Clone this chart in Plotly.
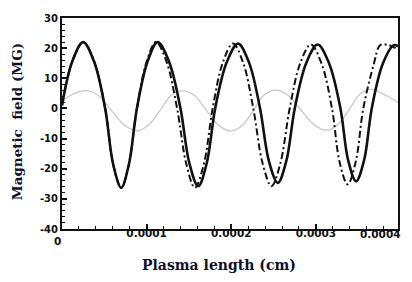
import plotly.graph_objects as go

# ---- data (x in cm) ----
solid_x = [0, 1.2e-5, 2.5e-5, 3.8e-5, 5.1e-5, 6.05e-5, 7.0e-5, 7.9e-5, 8.85e-5,
           10.1e-5, 11.3e-5, 12.65e-5, 14.0e-5, 15.05e-5, 16.1e-5, 17.1e-5, 18.1e-5,
           19.45e-5, 20.8e-5, 22.1e-5, 23.4e-5, 24.45e-5, 25.5e-5, 26.5e-5, 27.5e-5,
           28.85e-5, 30.2e-5, 31.55e-5, 32.9e-5, 33.8e-5, 34.75e-5, 35.7e-5, 36.6e-5,
           37.9e-5, 39.2e-5, 39.7e-5]
solid_y = [1, 15.5, 22, 15.5, 0, -18.6, -26.3, -18.6, 0,
           15.5, 22, 15.5, 0, -18.2, -25.8, -18.2, 0,
           15.2, 21.5, 15.2, 0, -17.5, -24.7, -17.5, 0,
           15, 21.2, 15, 0, -17.1, -24.2, -17.1, 0,
           14.8, 21, 20.6]

dashdot_x = [0, 1.2e-5, 2.5e-5, 3.8e-5, 5.1e-5, 6.05e-5, 7.0e-5, 7.9e-5, 8.85e-5,
             10.0e-5, 11.1e-5, 12.35e-5, 13.6e-5, 14.7e-5, 15.7e-5, 16.75e-5, 17.8e-5,
             19.0e-5, 20.2e-5, 21.4e-5, 22.6e-5, 23.7e-5, 24.75e-5, 25.8e-5, 26.9e-5,
             28.15e-5, 29.4e-5, 30.65e-5, 31.9e-5, 32.8e-5, 33.75e-5, 34.7e-5, 35.6e-5,
             36.85e-5, 37.6e-5, 38.6e-5, 39.7e-5]
dashdot_y = [1, 15.5, 22, 15.5, 0, -18.6, -26.3, -18.6, 0,
             15.5, 22, 15.5, 0, -18.6, -26.3, -18.6, 0,
             15.2, 21.5, 15.2, 0, -18.2, -25.8, -18.2, 0,
             15, 21.2, 15, 0, -17.8, -25.2, -17.8, 0,
             14.8, 21, 21, 19.5]

gray_x = [0, 1.4e-5, 2.8e-5, 4.3e-5, 5.85e-5, 7.4e-5, 8.9e-5, 10.2e-5, 11.55e-5,
          12.9e-5, 14.2e-5, 15.65e-5, 17.1e-5, 18.55e-5, 20.0e-5, 21.3e-5, 22.6e-5,
          23.9e-5, 25.2e-5, 26.7e-5, 28.25e-5, 29.8e-5, 31.3e-5, 32.6e-5, 33.9e-5,
          35.2e-5, 36.5e-5, 38.3e-5, 39.7e-5]
gray_y = [2.3, 4.9, 5.9, 4.3, -0.7, -5.6, -7.4, -5.6, -0.8,
          4.3, 5.8, 4.3, -0.8, -5.7, -7.5, -5.7, -0.7,
          4.5, 6.1, 4.4, -0.6, -5.4, -7.2, -5.3, -0.5,
          4.7, 6.3, 4.3, 2.0]

x_tick_vals = [1e-4, 2e-4, 3e-4]
x_tick_text = ["0.0001", "0.0002", "0.0003"]
y_tick_vals = [-40, -30, -20, -10, 0, 10, 20, 30]
y_tick_text = ["-40", "-30", "-20", "-10", "0", "10", "20", "30"]

W, H = 412, 282
L, R, T, B = 62, 12, 12, 53
pw, ph = W - L - R, H - T - B

def px(x):
    return (x - L) / pw

def py(y):
    return (H - B - y) / ph

fig = go.Figure()
fig.add_trace(go.Scatter(x=gray_x, y=gray_y, mode="lines", line_shape="spline",
                         line=dict(color="#c8c8c8", width=1.3), showlegend=False))
fig.add_trace(go.Scatter(x=solid_x, y=solid_y, mode="lines", line_shape="spline",
                         line=dict(color="#111111", width=2.6), showlegend=False))
fig.add_trace(go.Scatter(x=dashdot_x, y=dashdot_y, mode="lines", line_shape="spline",
                         line=dict(color="#111111", width=2.0, dash="7px,3px,2px,3px"),
                         showlegend=False))

tick_font = dict(family="DejaVu Sans", size=10.5, color="#111111", weight="bold")
title_font = dict(family="DejaVu Serif", size=14, color="#0f0f2a", weight="bold")

fig.update_xaxes(range=[0, 3.97e-4], showline=True, linecolor="#111111", linewidth=2,
                 mirror=True, ticks="inside", ticklen=5, tickwidth=1.5, tickcolor="#111111",
                 tickvals=x_tick_vals, ticktext=x_tick_text, tickfont=tick_font,
                 showgrid=False, zeroline=False, ticklabelstandoff=-7,
                 minor=dict(dtick=2e-5, ticks="inside", ticklen=3, tickcolor="#111111", tickwidth=1))
fig.update_yaxes(range=[-40, 30], showline=True, linecolor="#111111", linewidth=2,
                 mirror=True, ticks="inside", ticklen=5, tickwidth=1.5, tickcolor="#111111",
                 tickvals=y_tick_vals, ticktext=y_tick_text, tickfont=dict(tick_font, size=10),
                 showgrid=False, zeroline=False,
                 minor=dict(dtick=2, ticks="inside", ticklen=3, tickcolor="#111111", tickwidth=1))

annotations = [
    dict(text="0", x=px(57), y=py(241), xref="paper", yref="paper", showarrow=False,
         font=tick_font, xanchor="center", yanchor="middle"),
    dict(text="0.0004", x=px(382), y=py(234), xref="paper", yref="paper", showarrow=False,
         font=tick_font, xanchor="center", yanchor="middle"),
    dict(text="Plasma length (cm)", x=px(219.5), y=py(266), xref="paper", yref="paper",
         showarrow=False, font=title_font, xanchor="center", yanchor="middle"),
    dict(text="Magnetic  field (MG)", x=px(17), y=py(119), xref="paper", yref="paper",
         showarrow=False, font=dict(title_font, size=13.5), textangle=-90,
         xanchor="center", yanchor="middle"),
]

fig.update_layout(width=W, height=H, margin=dict(l=L, r=R, t=T, b=B),
                  paper_bgcolor="white", plot_bgcolor="white",
                  annotations=annotations, showlegend=False)

fig.write_html("out.html", config={"displayModeBar": False},
               post_script="document.body.style.margin='0';document.body.style.overflow='hidden';")
